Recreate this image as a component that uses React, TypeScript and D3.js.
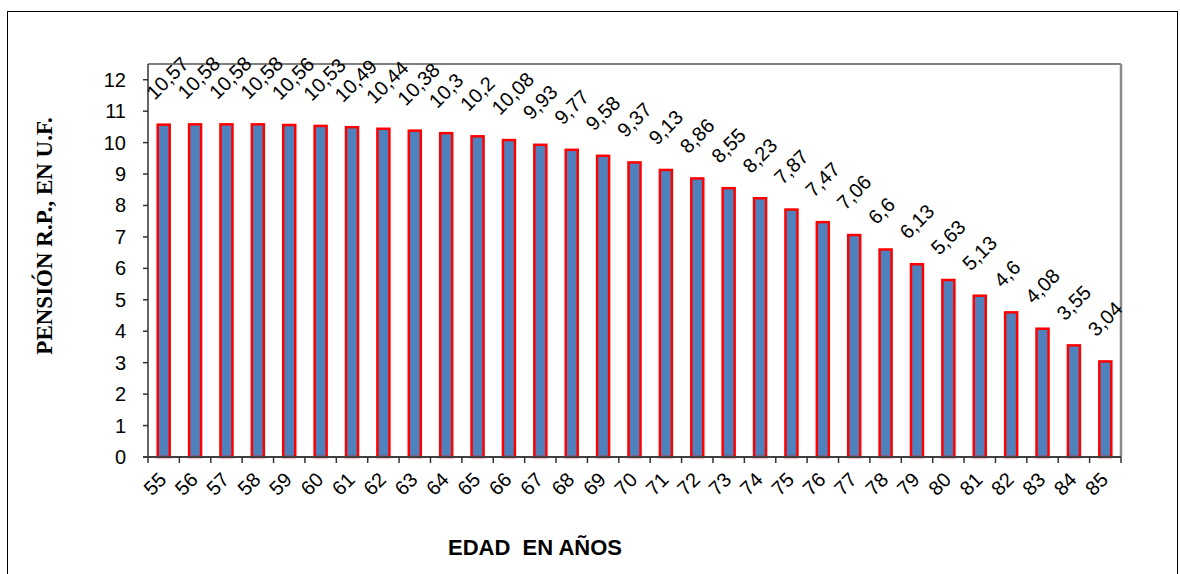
import React from "react";
import * as d3 from "d3";

const ages = [55,56,57,58,59,60,61,62,63,64,65,66,67,68,69,70,71,72,73,74,75,76,77,78,79,80,81,82,83,84,85];
const pension = [10.57,10.58,10.58,10.58,10.56,10.53,10.49,10.44,10.38,10.3,10.2,10.08,9.93,9.77,9.58,9.37,9.13,8.86,8.55,8.23,7.87,7.47,7.06,6.6,6.13,5.63,5.13,4.6,4.08,3.55,3.04];
const yTicks = [0,1,2,3,4,5,6,7,8,9,10,11,12];
const yTitle = "PENSIÓN R.P., EN U.F.";
const xTitle = "EDAD  EN AÑOS";

const W = 1180, H = 574;
const L = 148, R = 1121, T = 64, B = 457;

export default function App() {
  const x = d3.scaleBand<number>().domain(ages).range([L, R]).paddingInner(0).paddingOuter(0);
  const y = d3.scaleLinear().domain([0, 12.5]).range([B, T]);
  const bw = 12;
  const fmt = (v: number) => String(v).replace(".", ",");
  const sans = "Liberation Sans, Arial, sans-serif";
  return (
    <svg width={W} height={H} style={{ position: "absolute", left: 0, top: 0, display: "block" }}>
      <rect x={0} y={0} width={W} height={H} fill="#fff" />
      <rect x={7.5} y={11.5} width={1170} height={600} fill="none" stroke="#000" strokeWidth={1} />
      {/* plot frame */}
      <line x1={L} x2={R} y1={T} y2={T} stroke="#7f7f7f" strokeWidth={2} />
      <line x1={R} x2={R} y1={T} y2={B} stroke="#8c8c8c" strokeWidth={2.5} />
      {/* bars */}
      {ages.map((a, i) => {
        const cx = (x(a) as number) + x.bandwidth() / 2;
        return (
          <rect key={a} x={cx - bw / 2} y={y(pension[i])} width={bw} height={B - y(pension[i])}
            fill="#4f81bd" stroke="#ff0000" strokeWidth={2.5} />
        );
      })}
      {/* y axis */}
      <line x1={L} x2={L} y1={T} y2={B} stroke="#333" strokeWidth={1.5} />
      {yTicks.map(t => (
        <g key={t}>
          <line x1={L - 5} x2={L} y1={y(t)} y2={y(t)} stroke="#333" strokeWidth={1.5} />
          <text x={126} y={y(t)} dy="0.35em" textAnchor="end" fontFamily={sans} fontSize={20}>{t}</text>
        </g>
      ))}
      {/* x axis */}
      <line x1={L - 5} x2={R} y1={B} y2={B} stroke="#404040" strokeWidth={2} />
      {ages.map(a => (
        <line key={"t" + a} x1={(x(a) as number)} x2={(x(a) as number)} y1={B} y2={B + 6} stroke="#333" strokeWidth={1.5} />
      ))}
      <line x1={R} x2={R} y1={B} y2={B + 6} stroke="#333" strokeWidth={1.5} />
      {ages.map(a => {
        const cx = (x(a) as number) + x.bandwidth() / 2;
        return (
          <text key={"xl" + a} transform={`translate(${cx + 4},${B + 24}) rotate(-45)`} textAnchor="end"
            fontFamily={sans} fontSize={20}>{a}</text>
        );
      })}
      {/* data labels */}
      {ages.map((a, i) => {
        const cx = (x(a) as number) + x.bandwidth() / 2;
        const top = y(pension[i]);
        return (
          <text key={"dl" + a} transform={`translate(${cx - 9},${top - 24}) rotate(-45)`} textAnchor="start"
            fontFamily={sans} fontSize={20}>{fmt(pension[i])}</text>
        );
      })}
      {/* titles */}
      <text transform={`translate(52,${236}) rotate(-90)`} textAnchor="middle" fontFamily="Liberation Serif, Times New Roman, serif"
        fontWeight="bold" fontSize={23}>{yTitle}</text>
      <text x={535} y={555} textAnchor="middle" fontFamily={sans} fontWeight="bold" fontSize={22}
        style={{ whiteSpace: "pre" }}>{xTitle}</text>
    </svg>
  );
}
